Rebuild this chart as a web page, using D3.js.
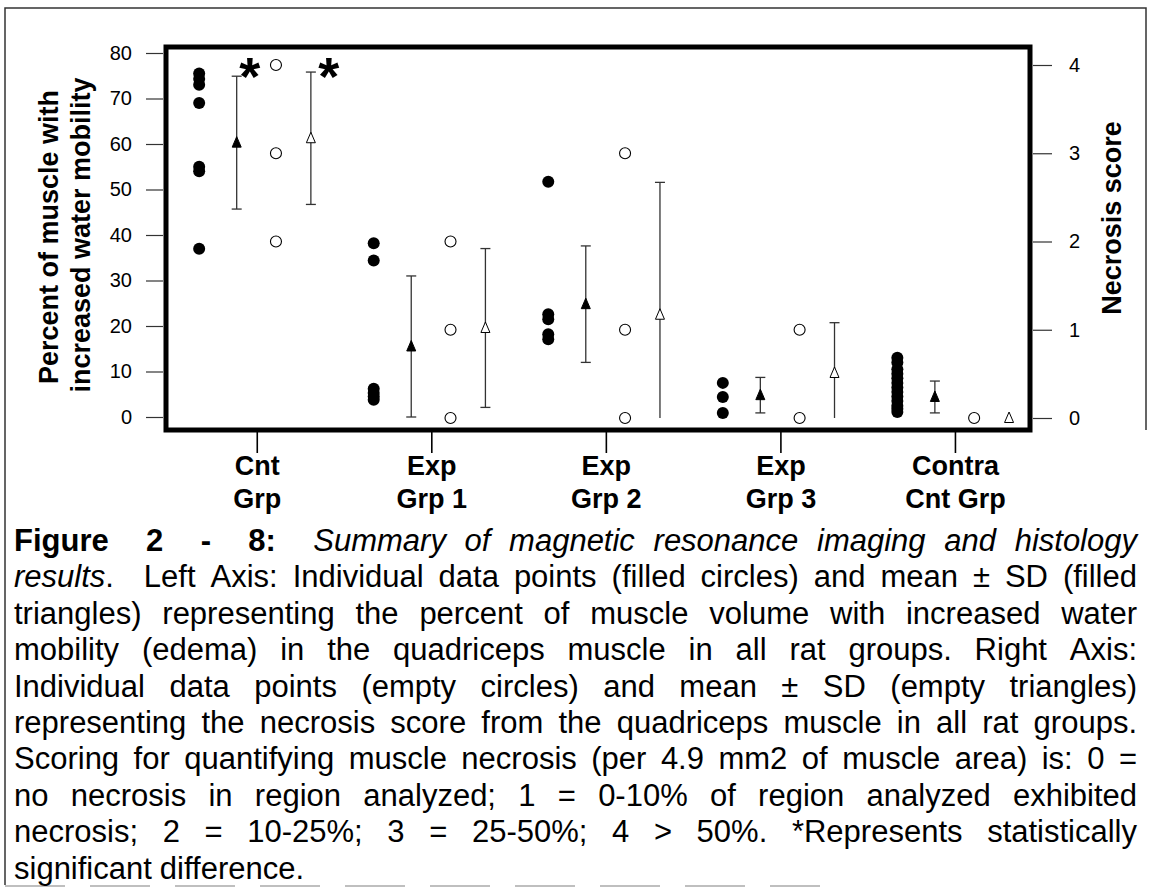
<!DOCTYPE html>
<html>
<head>
<meta charset="utf-8">
<script src="https://cdn.jsdelivr.net/npm/d3@7"></script>
<style>
  body { margin: 0; background: #fff; }
  svg { display: block; font-family: "Liberation Sans", Arial, sans-serif; }
</style>
</head>
<body>
<svg id="fig" width="1151" height="892"></svg>
<script>
// group labels (two lines each)
const groupTop = ['Cnt', 'Exp', 'Exp', 'Exp', 'Contra'];
const groupBottom = ['Grp', 'Grp 1', 'Grp 2', 'Grp 3', 'Cnt Grp'];

// left axis: % of muscle with increased water mobility
const edemaPoints = [
  [75.5, 74.3, 73, 69, 55, 54, 37],
  [38.2, 34.4, 6.2, 5.3, 4.5, 3.8],
  [51.7, 22.6, 21.5, 18.2, 17.1],
  [7.5, 4.4, 0.9],
  [13, 12, 10.5, 9.5, 8.5, 7.5, 6.5, 5.5, 4.5, 3.5, 2.5, 1.8, 1.1]
];
const edemaMean = [60.3, 15.5, 24.8, 4.8, 4.4];
const edemaSD = [14.6, 15.5, 12.8, 3.9, 3.5];

// right axis: necrosis score
const necrosisPoints = [[4, 3, 2], [2, 1, 0], [3, 1, 0], [1, 0], [0]];
const necrosisMean = [3.17, 1.02, 1.17, 0.51, 0];
const necrosisSD = [0.75, 0.9, 1.5, 0.57, 0];

// significance stars: [group, series]
const sigMarks = [[0, 'edema'], [0, 'necrosis']];

const leftTicks = [0, 10, 20, 30, 40, 50, 60, 70, 80];
const rightTicks = [0, 1, 2, 3, 4];

const captionLines = [
  "^Figure  2  -  8:^  _Summary of magnetic resonance imaging and histology_",
  "_results_.  Left Axis: Individual data points (filled circles) and mean ± SD (filled",
  "triangles) representing the percent of muscle volume with increased water",
  "mobility (edema) in the quadriceps muscle in all rat groups. Right Axis:",
  "Individual data points (empty circles) and mean ± SD (empty triangles)",
  "representing the necrosis score from the quadriceps muscle in all rat groups.",
  "Scoring for quantifying muscle necrosis (per 4.9 mm2 of muscle area) is: 0 =",
  "no necrosis in region analyzed; 1 = 0-10% of region analyzed exhibited",
  "necrosis; 2 = 10-25%; 3 = 25-50%; 4 > 50%. *Represents statistically",
  "significant difference."
];

const svg = d3.select('#fig');

const xScale = d3.scaleLinear().domain([-0.52, 4.43]).range([166, 1030]);
const yLeft = d3.scaleLinear().domain([0, 80]).range([417, 53]);
const yRight = d3.scaleLinear().domain([0, 4]).range([418, 65]);

// outer figure border
svg.append('path')
  .attr('d', 'M5,885 L5,8 L1146,8 L1146,430')
  .attr('fill', 'none').attr('stroke', '#333').attr('stroke-width', 1.5);
svg.append('line')
  .attr('x1', 5).attr('x2', 820).attr('y1', 886).attr('y2', 886)
  .attr('stroke', '#aaa').attr('stroke-width', 1.5).attr('stroke-dasharray', '60 25');

// axes
let leftAxis = d3.axisLeft(yLeft).tickValues(leftTicks).tickSize(17).tickPadding(14);
let rightAxis = d3.axisRight(yRight).tickValues(rightTicks).tickSize(19).tickPadding(17).tickFormat(d3.format('d'));
let bottomAxis = d3.axisBottom(xScale).tickValues(d3.range(groupTop.length)).tickSize(21).tickFormat('');

const gl = svg.append('g').attr('transform', 'translate(163,0)').call(leftAxis);
const gr = svg.append('g').attr('transform', 'translate(1033,0)').call(rightAxis);
const gb = svg.append('g').attr('transform', 'translate(0,432)').call(bottomAxis);

[gl, gr, gb].forEach(g => {
  g.select('.domain').remove();
  g.selectAll('.tick line').attr('stroke', '#333').attr('stroke-width', 1.2);
  g.selectAll('.tick text').attr('font-size', 20).attr('fill', '#000').attr('font-family', null);
});
gb.selectAll('.tick line').attr('stroke', '#000').attr('stroke-width', 1.6);

gb.selectAll('.tick').each(function (d, i) {
  const t = d3.select(this).append('text')
    .attr('text-anchor', 'middle').attr('font-size', 27).attr('font-weight', 'bold').attr('fill', '#000');
  t.append('tspan').attr('x', 0).attr('y', 43).text(groupTop[i]);
  t.append('tspan').attr('x', 0).attr('y', 76).text(groupBottom[i]);
});

// axis titles
svg.append('text').attr('transform', 'translate(58,237) rotate(-90)')
  .attr('font-size', 27).attr('font-weight', 'bold').attr('text-anchor', 'middle')
  .text('Percent of muscle with');
svg.append('text').attr('transform', 'translate(90,235) rotate(-90)')
  .attr('font-size', 27).attr('font-weight', 'bold').attr('text-anchor', 'middle')
  .text('increased water mobility');
svg.append('text').attr('transform', 'translate(1121,218) rotate(-90)')
  .attr('font-size', 27).attr('font-weight', 'bold').attr('text-anchor', 'middle')
  .text('Necrosis score');

// plot frame
svg.append('rect')
  .attr('x', 166).attr('y', 47).attr('width', 864).attr('height', 383)
  .attr('fill', 'none').attr('stroke', '#000').attr('stroke-width', 5);

const OFF_DOT_L = -0.33, OFF_TRI_L = -0.115, OFF_DOT_R = 0.11, OFF_TRI_R = 0.31;

function drawDots (pointSets, y, off, filled) {
  pointSets.forEach((arr, g) => {
    svg.append('g').selectAll('circle').data(arr).join('circle')
      .attr('cx', xScale(g + off))
      .attr('cy', d => y(d))
      .attr('r', filled ? 6 : 5.5)
      .attr('fill', filled ? '#000' : '#fff')
      .attr('stroke', '#000')
      .attr('stroke-width', filled ? 0 : 1.1);
  });
}

function drawMeans (means, sds, y, off, filled) {
  means.forEach((m, g) => {
    const x = xScale(g + off);
    const sd = sds[g];
    const grp = svg.append('g');
    if (sd > 0) {
      const lo = Math.max(0, m - sd), hi = m + sd;
      grp.append('line')
        .attr('x1', x).attr('x2', x).attr('y1', y(lo)).attr('y2', y(hi))
        .attr('stroke', '#333').attr('stroke-width', 1.3);
      const caps = [hi];
      if (m - sd >= 0) caps.push(lo);
      caps.forEach(v => {
        grp.append('line')
          .attr('x1', x - 5).attr('x2', x + 5).attr('y1', y(v)).attr('y2', y(v))
          .attr('stroke', '#333').attr('stroke-width', 1.3);
      });
    }
    grp.append('path')
      .attr('d', 'M0,-6 L4.5,4.5 L-4.5,4.5 Z')
      .attr('transform', `translate(${x},${y(m)})`)
      .attr('fill', filled ? '#000' : '#fff')
      .attr('stroke', '#000')
      .attr('stroke-width', 1);
  });
}

drawDots(edemaPoints, yLeft, OFF_DOT_L, true);
drawMeans(edemaMean, edemaSD, yLeft, OFF_TRI_L, true);
drawDots(necrosisPoints, yRight, OFF_DOT_R, false);
drawMeans(necrosisMean, necrosisSD, yRight, OFF_TRI_R, false);

// significance stars beside the top of the error bars
sigMarks.forEach(([g, series]) => {
  const isEdema = series === 'edema';
  const x = xScale(g + (isEdema ? OFF_TRI_L : OFF_TRI_R)) + (isEdema ? 13 : 18);
  const y = isEdema ? yLeft(edemaMean[g] + edemaSD[g]) - 11 : yRight(necrosisMean[g] + necrosisSD[g]) - 7;
  svg.append('text')
    .attr('x', x).attr('y', y + 30)
    .attr('text-anchor', 'middle')
    .attr('font-size', 54).attr('font-weight', 'bold')
    .text('*');
});

// caption, justified
function parseLine (str) {
  const words = [];
  let cur = null, bold = false, ital = false, spaces = 0;
  for (const ch of str) {
    if (ch === '^') { bold = !bold; continue; }
    if (ch === '_') { ital = !ital; continue; }
    if (ch === ' ') {
      if (cur) { words.push(cur); cur = null; }
      spaces++;
      continue;
    }
    if (!cur) { cur = { gap: spaces, runs: [] }; spaces = 0; }
    const last = cur.runs[cur.runs.length - 1];
    if (last && last.b === bold && last.i === ital) last.t += ch;
    else cur.runs.push({ t: ch, b: bold, i: ital });
  }
  if (cur) words.push(cur);
  return words;
}

const CAP_X0 = 14, CAP_X1 = 1137, CAP_Y0 = 551, CAP_DY = 36.4, CAP_SIZE = 31;
const cap = svg.append('g').attr('font-size', CAP_SIZE).attr('fill', '#000');

captionLines.forEach((line, li) => {
  const words = parseLine(line);
  const textY = CAP_Y0 + li * CAP_DY;
  let nodes = words.map(w => {
    const t = cap.append('text').attr('y', textY);
    w.runs.forEach(r => {
      t.append('tspan')
        .attr('font-weight', r.b ? 'bold' : null)
        .attr('font-style', r.i ? 'italic' : null)
        .text(r.t);
    });
    return { t, w: t.node().getComputedTextLength(), gap: w.gap };
  });
  let total = d3.sum(nodes, n => n.w);
  const gapUnits = d3.sum(nodes.slice(1), n => n.gap);
  const last = li === captionLines.length - 1;
  const avail = CAP_X1 - CAP_X0;
  // squeeze the words horizontally if a line would not fit
  let sx = 1;
  if (!last && total + gapUnits * 4 > avail) sx = (avail - gapUnits * 4) / total;
  const unit = last ? 8 : (avail - total * sx) / gapUnits;
  let x = CAP_X0;
  nodes.forEach((n, i) => {
    if (i > 0) x += n.gap * unit;
    n.t.attr('x', 0).attr('y', 0).attr('transform', `translate(${x},${textY}) scale(${sx},1)`);
    x += n.w * sx;
  });
});
</script>
</body>
</html>
